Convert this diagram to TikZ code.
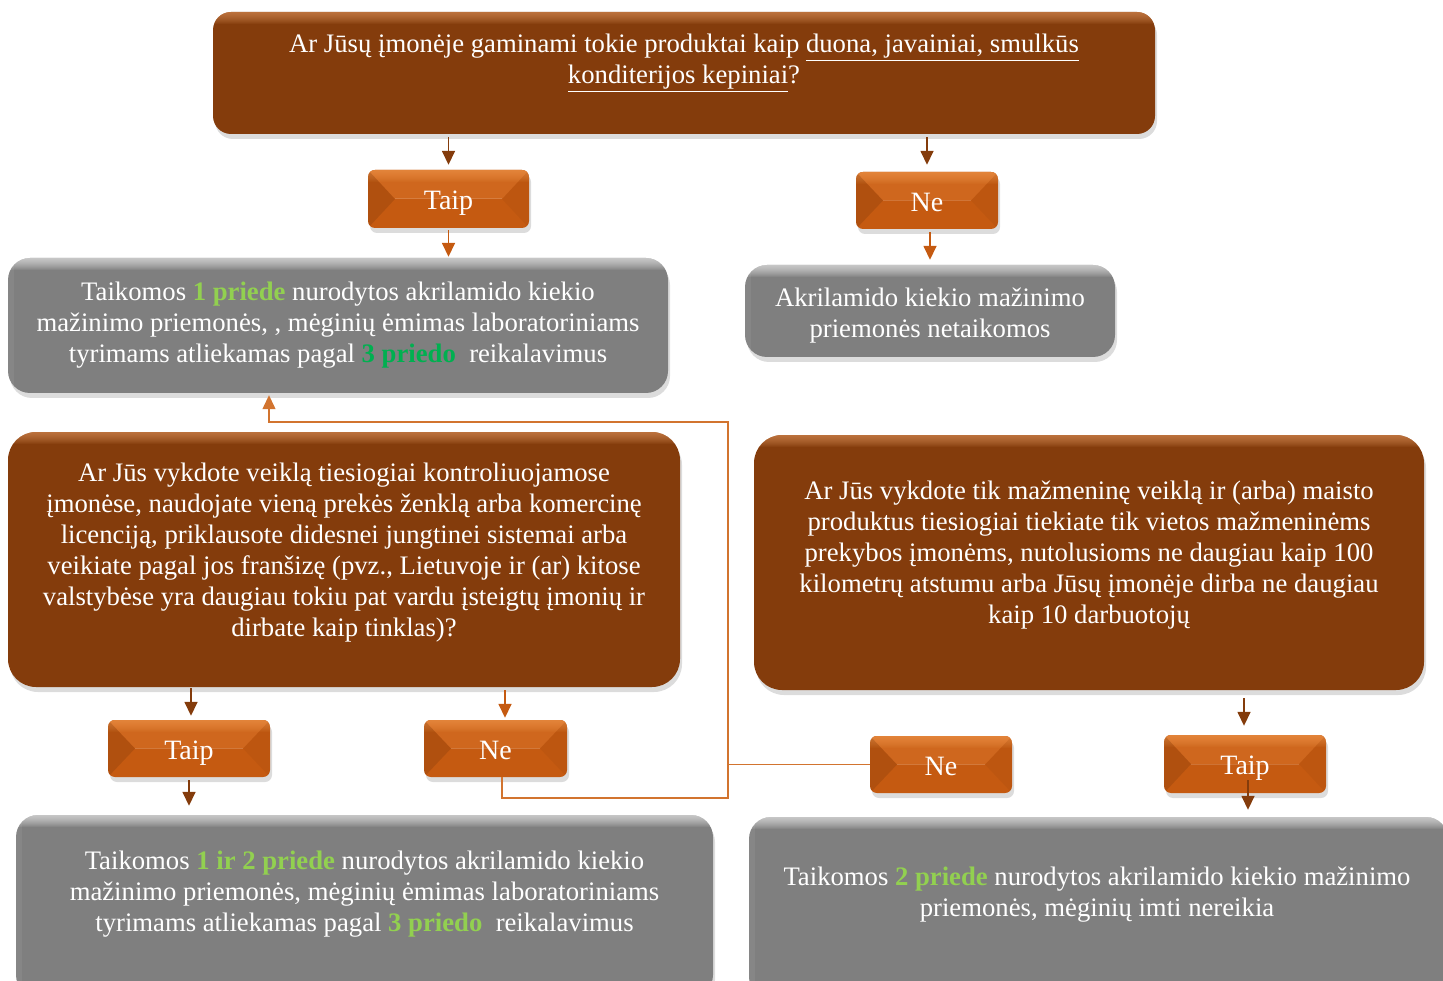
\documentclass[tikz,border=0pt]{standalone}
\usepackage{fontspec}
\setmainfont{Liberation Serif}
\usepackage{xcolor}
\usetikzlibrary{arrows.meta,calc,shadows}

\definecolor{rudas}{HTML}{843C0C}
\definecolor{rudasSv}{HTML}{E3975F}
\definecolor{oranz}{HTML}{C55A11}
\definecolor{oranzSv}{HTML}{F59A50}
\definecolor{pilka}{HTML}{7F7F7F}
\definecolor{zalia}{HTML}{92D050}
\definecolor{zaliaT}{HTML}{00B050}
\definecolor{jungt}{HTML}{D2742F}

\newcommand{\priedas}[1]{\textbf{\color{zalia}#1}}

\tikzset{
  tekstas/.style={text=white, align=center, font=\fontsize{26.7}{31}\selectfont, inner sep=0pt},
  seselis/.style={drop shadow={shadow xshift=2pt, shadow yshift=-5pt, opacity=.28}},
  klaus/.style={tekstas, seselis, fill=rudas, rounded corners=#1,
    path picture={\foreach \i in {1,...,12}
      \fill[sharp corners, rudasSv, opacity=.08]
        (path picture bounding box.north west) rectangle ([yshift=-\i pt]path picture bounding box.north east);}},
  klaus/.default=28pt,
  pilk/.style={tekstas, seselis, fill=pilka, rounded corners=#1,
    path picture={\foreach \i in {1,...,12}
      \fill[sharp corners, white, opacity=.07]
        (path picture bounding box.north west) rectangle ([yshift=-\i pt]path picture bounding box.north east);
      \fill[sharp corners, white, opacity=.06] (path picture bounding box.north west) rectangle ([xshift=6pt]path picture bounding box.south west);}},
  pilk/.default=22pt,
  mygt/.style={tekstas, seselis, fill=oranz, rounded corners=7pt, font=\fontsize{28}{30}\selectfont,
    text height=24pt, text depth=2.5pt,
    path picture={
      \fill[sharp corners, oranz!80!oranzSv]
        (path picture bounding box.north west) -- (path picture bounding box.north east)
        -- ([xshift=-27pt]path picture bounding box.east) -- ([xshift=27pt]path picture bounding box.west) -- cycle;
      \foreach \i in {1,...,12}
        \fill[sharp corners, oranzSv, opacity=.08]
          (path picture bounding box.north west) rectangle ([yshift=-\i pt]path picture bounding box.north east);
      \fill[sharp corners, black, opacity=.10] (path picture bounding box.north west) -- ([xshift=27pt]path picture bounding box.west)
        -- (path picture bounding box.south west) -- cycle;
      \fill[sharp corners, black, opacity=.04] (path picture bounding box.north east) -- ([xshift=-27pt]path picture bounding box.east)
        -- (path picture bounding box.south east) -- cycle;
      \draw[white, opacity=.15, line width=1pt] ([xshift=27pt]path picture bounding box.west) -- ([xshift=-27pt]path picture bounding box.east);}},
  rodykle/.style={draw=#1, line width=1.6pt, -{Triangle[width=13pt,length=14pt]}, shorten <=3pt, shorten >=5pt},
  jungtis/.style={draw=jungt, line width=1.3pt}
}

\begin{document}
\begin{tikzpicture}[x=1pt, y=-1pt]
\useasboundingbox (0,0) rectangle (1443,981);
\clip (0,0) rectangle (1443,981);

%pirmas klausimas
\node[klaus=18pt, minimum width=942pt, minimum height=122pt] (q1) at (684,73) {};
\node[tekstas] (q1t) at (684,63) {Ar Jūsų įmonėje gaminami tokie produktai kaip \underline{duona, javainiai, smulkūs}\\\underline{konditerijos kepiniai}?};

\node[mygt, minimum width=161pt, minimum height=58pt] (taip1) at (448.5,199) {Taip};
\node[mygt, minimum width=142pt, minimum height=57pt] (ne1) at (927,200.5) {Ne};

\node[pilk, minimum width=660pt, minimum height=135pt] (g1) at (338,325.5)
  {Taikomos \priedas{1 priede} nurodytos akrilamido kiekio\\mažinimo priemonės, , mėginių ėmimas laboratoriniams\\tyrimams atliekamas pagal \textbf{\color{zaliaT}3 priedo}\ \ reikalavimus};
\node[pilk, minimum width=370pt, minimum height=92pt] (g2) at (930,311) {};
\node[tekstas] (g2t) at (930,316) {Akrilamido kiekio mažinimo\\priemonės netaikomos};

\draw[rodykle=rudas] (q1.south -| taip1) -- (taip1.north);
\draw[rodykle=rudas, shorten >=7pt] (q1.south -| ne1) -- (ne1.north);
\draw[rodykle=oranz, shorten <=2pt, shorten >=1pt] (taip1.south) -- (taip1.south |- g1.north);
\coordinate (ne1out) at ($(ne1.south)+(3,0)$);
\draw[rodykle=oranz] (ne1out) -- (ne1out |- g2.north);

%antras ir trecias klausimas
\node[klaus, minimum width=672pt, minimum height=255pt, text depth=20pt] (q2) at (344,559.5)
  {Ar Jūs vykdote veiklą tiesiogiai kontroliuojamose\\įmonėse, naudojate vieną prekės ženklą arba komercinę\\licenciją, priklausote didesnei jungtinei sistemai arba\\veikiate pagal jos franšizę (pvz., Lietuvoje ir (ar) kitose\\valstybėse yra daugiau tokiu pat vardu įsteigtų įmonių ir\\dirbate kaip tinklas)?};
\node[klaus, minimum width=670pt, minimum height=255pt, text depth=20pt] (q3) at (1089,562.5)
  {Ar Jūs vykdote tik mažmeninę veiklą ir (arba) maisto\\produktus tiesiogiai tiekiate tik vietos mažmeninėms\\prekybos įmonėms, nutolusioms ne daugiau kaip 100\\kilometrų atstumu arba Jūsų įmonėje dirba ne daugiau\\kaip 10 darbuotojų};

\node[mygt, minimum width=162pt, minimum height=57pt] (taip2) at (189,748.5) {Taip};
\node[mygt, minimum width=143pt, minimum height=57pt] (ne2) at (495.5,748.5) {Ne};
\node[mygt, minimum width=142pt, minimum height=57pt] (ne3) at (941,764.5) {Ne};
\node[mygt, minimum width=162pt, minimum height=58pt] (taip3) at (1245,764) {Taip};

%apatines dezutes
\node[pilk, minimum width=697pt, minimum height=182pt] (g3) at (364.5,906) {};
\node[tekstas] (g3t) at (364.5,894)
  {Taikomos \priedas{1 ir 2 priede} nurodytos akrilamido kiekio\\mažinimo priemonės, mėginių ėmimas laboratoriniams\\tyrimams atliekamas pagal \priedas{3 priedo}\ \ reikalavimus};
\node[pilk, minimum width=699pt, minimum height=182pt] (g4) at (1098.5,908) {};
\node[tekstas] (g4t) at (1097,895)
  {Taikomos \priedas{2 priede} nurodytos akrilamido kiekio mažinimo\\priemonės, mėginių imti nereikia};

\coordinate (taip2out) at ($(taip2.north)+(2,0)$);
\draw[rodykle=rudas, shorten <=1pt, shorten >=4pt] (taip2out |- q2.south) -- (taip2out);
\draw[rodykle=rudas, shorten >=9pt] (taip2.south) -- (taip2.south |- g3.north);
\coordinate (ne2in) at ($(ne2.north)+(9.5,0)$);
\draw[rodykle=oranz, shorten >=2pt] (ne2in |- q2.south) -- (ne2in);
\coordinate (taip3in) at ($(taip3.north)+(-1,0)$);
\draw[rodykle=rudas, shorten <=8pt, shorten >=9pt] (taip3in |- q3.south) -- (taip3in);
\coordinate (taip3out) at ($(taip3.south)+(3,-13)$);
\draw[rodykle=rudas, shorten <=0pt, shorten >=7pt] (taip3out) -- (taip3out |- g4.north);

%Ne jungtis
\coordinate (kampA) at (728,798);
\coordinate (kampB) at (728,422);
\draw[jungtis, -{Triangle[width=13pt,length=14pt]}, shorten >=2pt] ($(ne2.south)+(6.5,0)$) |- (kampA) -- (kampB) -| ($(g1.south)+(-69,0)$);
\draw[jungtis] (ne3.west) -- (ne3.west -| kampA);

\end{tikzpicture}
\end{document}
